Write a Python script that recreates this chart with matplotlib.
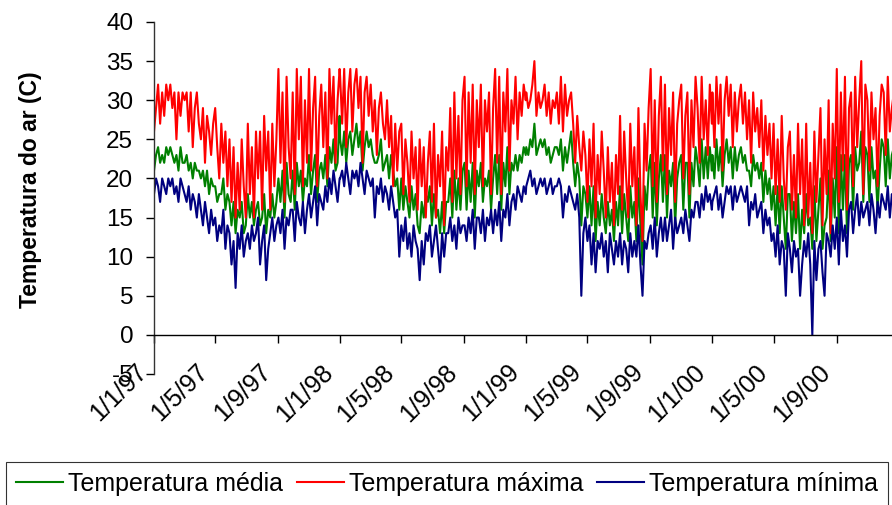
import matplotlib
matplotlib.use("Agg")
import matplotlib.pyplot as plt
import matplotlib.dates as mdates
import matplotlib.transforms as mtransforms
import numpy as np
import pandas as pd

plt.rcParams['font.family'] = ['Liberation Sans', 'DejaVu Sans']

# ---- data (one sample every 4 days) ----
years = [1997, 1998, 1999, 2000]

tmax_1997 = [26, 29, 32, 27, 31, 28, 32, 30,
             32, 29, 31, 25, 31, 28, 31,
             30, 31, 26, 31, 24, 29, 31, 27,
             25, 29, 22, 28, 26, 23, 27,
             29, 24, 20, 27, 22, 26, 19, 25,
             17, 24, 15, 22, 16, 25, 19, 15,
             27, 18, 24, 15, 26, 20, 26,
             16, 28, 21, 26, 16, 27, 19, 25,
             34, 22, 31, 17, 33, 24, 20,
             31, 18, 34, 25, 33, 19, 30, 22,
             34, 21, 29, 33, 19, 28, 32, 24,
             31, 20, 34, 27, 33, 22, 30, 34]
tmin_1997 = [18, 20, 19, 17, 20, 19, 18, 20,
             19, 20, 18, 19, 17, 20, 19,
             18, 17, 19, 16, 18, 17, 15, 18,
             16, 14, 17, 15, 13, 16, 14,
             15, 12, 14, 13, 16, 11, 14, 13,
             9, 12, 6, 13, 11, 14, 10, 12,
             13, 11, 14, 12, 13, 15, 9,
             12, 14, 7, 11, 13, 15, 12, 14,
             15, 13, 16, 11, 15, 14, 16,
             16, 12, 17, 15, 14, 17, 13, 16,
             18, 15, 17, 19, 14, 18, 17, 16,
             19, 17, 20, 18, 21, 19, 17, 20]
tmean_1997 = [21, 23, 24, 22, 23, 22, 24, 23,
              24, 23, 22, 23, 21, 24, 22,
              22, 23, 21, 22, 20, 22, 21, 21,
              20, 21, 19, 21, 18, 20, 19,
              19, 17, 18, 18, 20, 16, 18, 17,
              14, 17, 13, 16, 15, 17, 13, 14,
              18, 15, 17, 14, 16, 17, 14,
              15, 18, 13, 16, 15, 18, 15, 17,
              20, 17, 21, 15, 22, 18, 17,
              21, 16, 22, 19, 21, 17, 20, 19,
              23, 18, 21, 23, 17, 21, 22, 20,
              23, 19, 24, 22, 25, 21, 22, 28]

tmax_1998 = [33, 27, 34, 24, 31, 34, 26, 32,
             34, 29, 33, 22, 31, 33, 28,
             32, 26, 30, 23, 29, 31, 27, 25,
             30, 24, 28, 19, 27, 21, 26,
             27, 18, 25, 22, 17, 26, 20, 24,
             16, 25, 19, 24, 15, 22, 26, 17,
             27, 15, 23, 19, 26, 14, 24,
             21, 29, 17, 31, 20, 28, 18, 30,
             33, 19, 31, 22, 32, 18, 30,
             24, 32, 19, 30, 26, 31, 18, 29,
             34, 22, 33, 18, 31, 26, 34, 21,
             30, 27, 33, 25, 31, 28, 32, 30]
tmin_1998 = [20, 21, 19, 22, 20, 18, 21, 20,
             21, 19, 22, 20, 18, 21, 20,
             19, 20, 15, 19, 18, 20, 17, 19,
             18, 16, 19, 17, 15, 16, 10,
             14, 12, 15, 11, 13, 10, 14, 12,
             11, 7, 12, 9, 13, 12, 14, 10,
             12, 14, 11, 8, 13, 10, 13,
             13, 15, 12, 14, 11, 15, 13, 14,
             14, 12, 15, 13, 16, 11, 15,
             15, 13, 16, 12, 15, 14, 16, 13,
             16, 14, 17, 12, 16, 15, 18, 14,
             17, 18, 16, 19, 18, 17, 19, 18]
tmean_1998 = [25, 23, 26, 22, 25, 26, 23, 25,
              27, 24, 26, 21, 24, 26, 24,
              25, 23, 22, 22, 23, 25, 21, 22,
              23, 20, 23, 21, 19, 20, 16,
              20, 16, 19, 17, 15, 19, 16, 18,
              14, 13, 17, 15, 18, 17, 19, 14,
              18, 15, 16, 13, 17, 13, 17,
              17, 20, 15, 21, 16, 20, 16, 21,
              22, 16, 21, 17, 22, 15, 21,
              19, 22, 17, 20, 19, 21, 16, 20,
              23, 18, 23, 16, 22, 19, 24, 18,
              22, 21, 23, 21, 23, 22, 24, 23]

tmax_1999 = [31, 29, 30, 32, 35, 28, 31, 29,
             30, 32, 28, 31, 27, 30, 29,
             31, 27, 33, 26, 32, 28, 30, 31,
             27, 22, 28, 24, 21, 26, 23,
             17, 25, 19, 27, 15, 23, 18, 26,
             21, 15, 24, 17, 22, 14, 23, 18,
             28, 16, 26, 20, 15, 27, 19,
             24, 14, 29, 18, 12, 27, 21, 29,
             34, 19, 30, 17, 28, 33, 21,
             32, 18, 29, 23, 31, 17, 27, 30,
             32, 20, 28, 31, 18, 30, 24, 33,
             29, 22, 33, 25, 30, 23, 32, 27]
tmin_1999 = [19, 20, 21, 19, 20, 18, 19, 20,
             19, 20, 18, 19, 20, 18, 19,
             19, 20, 19, 15, 18, 17, 19, 18,
             17, 16, 18, 15, 5, 13, 15,
             12, 14, 9, 13, 8, 12, 11, 13,
             10, 12, 8, 13, 11, 9, 12, 10,
             13, 9, 12, 11, 8, 13, 10,
             12, 10, 14, 9, 5, 12, 11, 13,
             14, 11, 15, 10, 13, 15, 12,
             15, 12, 14, 16, 11, 15, 13, 14,
             15, 13, 16, 14, 12, 16, 15, 17,
             17, 15, 18, 16, 19, 17, 18, 16]
tmean_1999 = [24, 23, 25, 24, 27, 23, 24, 25,
              24, 25, 23, 24, 22, 23, 24,
              24, 23, 25, 21, 24, 22, 24, 26,
              22, 19, 22, 20, 14, 19, 18,
              15, 19, 14, 19, 12, 17, 14, 18,
              15, 13, 17, 14, 16, 12, 17, 14,
              19, 13, 18, 15, 12, 19, 15,
              17, 12, 20, 14, 9, 19, 16, 21,
              23, 15, 22, 14, 20, 23, 17,
              23, 15, 21, 19, 22, 14, 20, 22,
              23, 16, 22, 22, 15, 22, 19, 24,
              22, 19, 25, 20, 24, 20, 24, 21]

tmax_2000 = [31, 24, 33, 27, 32, 21, 30, 33,
             28, 32, 24, 31, 26, 30, 32,
             27, 31, 25, 30, 22, 31, 26, 29,
             24, 30, 21, 28, 23, 27, 20,
             27, 18, 25, 17, 28, 20, 16, 24,
             26, 16, 23, 15, 27, 18, 25, 14,
             27, 15, 22, 13, 26, 17, 23,
             29, 14, 25, 18, 30, 13, 27, 20,
             34, 17, 31, 21, 33, 16, 29,
             31, 19, 33, 24, 30, 35, 18, 32,
             30, 21, 31, 25, 29, 19, 28, 32,
             31, 23, 33, 26, 29, 31, 24, 29]
tmin_2000 = [17, 18, 19, 16, 18, 15, 17, 19,
             18, 19, 16, 19, 17, 18, 19,
             18, 17, 19, 14, 17, 16, 18, 15,
             16, 17, 13, 16, 14, 15, 12,
             13, 10, 14, 9, 12, 11, 5, 13,
             11, 8, 12, 10, 11, 5, 9, 12,
             10, 13, 9, 0, 12, 7, 11,
             12, 8, 5, 13, 12, 10, 14, 11,
             15, 9, 16, 12, 14, 10, 16,
             17, 13, 16, 18, 14, 17, 15, 16,
             17, 14, 18, 16, 13, 17, 15, 18,
             17, 16, 19, 15, 18, 17, 19, 16]
tmean_2000 = [23, 20, 25, 21, 24, 19, 23, 25,
              22, 24, 20, 24, 21, 23, 24,
              22, 23, 21, 21, 19, 23, 21, 22,
              20, 22, 17, 21, 18, 20, 16,
              19, 14, 19, 13, 19, 15, 11, 18,
              18, 12, 17, 13, 18, 11, 16, 13,
              18, 14, 15, 11, 19, 12, 16,
              20, 11, 14, 15, 21, 12, 20, 15,
              24, 13, 23, 16, 23, 13, 22,
              23, 16, 24, 21, 22, 26, 17, 24,
              23, 17, 24, 20, 21, 16, 21, 25,
              24, 19, 25, 20, 23, 24, 21, 23]

tick_dates = ['1997-01-01', '1997-05-01', '1997-09-01',
              '1998-01-01', '1998-05-01', '1998-09-01',
              '1999-01-01', '1999-05-01', '1999-09-01',
              '2000-01-01', '2000-05-01', '2000-09-01']
tick_labels = ['1/1/97', '1/5/97', '1/9/97', '1/1/98', '1/5/98', '1/9/98',
               '1/1/99', '1/5/99', '1/9/99', '1/1/00', '1/5/00', '1/9/00']
y_ticks = [-5, 0, 5, 10, 15, 20, 25, 30, 35, 40]

series_names = ['Temperatura média', 'Temperatura máxima', 'Temperatura mínima']
series_colors = ['#008000', '#FF0000', '#000080']

# ---- assemble ----
dates = np.concatenate([pd.date_range(f'{y}-01-01', periods=92, freq='4D').values
                        for y in years])
tmean = np.concatenate([tmean_1997, tmean_1998, tmean_1999, tmean_2000])
tmax = np.concatenate([tmax_1997, tmax_1998, tmax_1999, tmax_2000])
tmin = np.concatenate([tmin_1997, tmin_1998, tmin_1999, tmin_2000])

W, H = 892, 505
fig = plt.figure(figsize=(W / 100, H / 100), dpi=100)
ax = fig.add_axes([154 / W, (H - 374) / H, 745 / W, 352 / H])

for vals, name, col in zip([tmean, tmax, tmin], series_names, series_colors):
    ax.plot(dates, vals, color=col, lw=1.5, label=name, solid_joinstyle='round')

ax.set_xlim(pd.Timestamp('1997-01-01'), pd.Timestamp('2001-01-01'))
ax.set_ylim(-5, 40)
ax.set_yticks(y_ticks)
ax.set_yticklabels([str(v) for v in y_ticks])

for s in ['top', 'right']:
    ax.spines[s].set_visible(False)
ax.spines['bottom'].set_position(('data', 0))
ax.spines['bottom'].set_color('black')
ax.spines['left'].set_color('#333333')
ax.spines['bottom'].set_linewidth(1.0)
ax.spines['left'].set_linewidth(1.0)

tick_nums = mdates.date2num(pd.to_datetime(tick_dates))
ax.set_xticks(tick_nums)
ax.tick_params(axis='x', direction='out', length=5.5, width=1, labelbottom=False)
ax.tick_params(axis='y', direction='out', length=5.5, width=1, labelsize=17.5, pad=9.5)

off = mtransforms.offset_copy(ax.transData, fig=fig, x=-19, y=0, units='dots')
for xn, lab in zip(tick_nums, tick_labels):
    ax.text(xn, -3.2, lab, transform=off, rotation=45, rotation_mode='anchor',
            ha='right', va='top', fontsize=18, clip_on=False)

fig.text(31 / W, 1 - 190 / H, 'Temperatura do ar (C)', rotation=90,
         fontsize=16.5, fontweight='bold', ha='center', va='center')

leg = fig.legend(loc='upper left', bbox_to_anchor=(6 / W, 1 - 462 / H, 882 / W, 0.0),
                 mode='expand', ncol=3, fontsize=18, frameon=True, fancybox=False,
                 edgecolor='black', handlelength=1.9, handletextpad=0.2,
                 borderaxespad=0, borderpad=0.4)
leg.get_frame().set_linewidth(0.8)

fig.savefig('out.png', dpi=100)
